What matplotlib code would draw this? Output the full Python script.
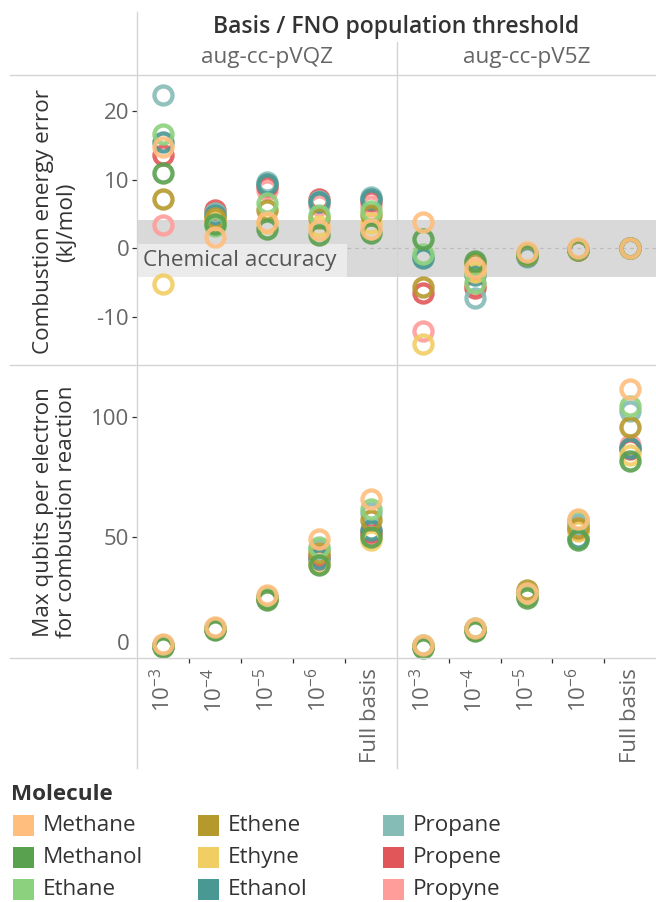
import matplotlib
matplotlib.use("Agg")
import matplotlib.pyplot as plt
from matplotlib.lines import Line2D
from matplotlib.patches import Rectangle

plt.rcParams['font.family'] = ['Open Sans', 'DejaVu Sans']
plt.rcParams['mathtext.fontset'] = 'custom'
plt.rcParams['mathtext.rm'] = 'Open Sans'
plt.rcParams['mathtext.it'] = 'Open Sans:italic'
plt.rcParams['mathtext.bf'] = 'Open Sans:bold'
plt.rcParams['axes.unicode_minus'] = False

# ---------------------------------------------------------------- data
molecules = ['Methane', 'Methanol', 'Ethane', 'Ethene', 'Ethyne',
             'Ethanol', 'Propane', 'Propene', 'Propyne']
colors = ['#FFBE7D', '#59A14F', '#8CD17D', '#B6992D', '#F1CE63',
          '#499894', '#86BCB6', '#E15759', '#FF9D9A']
bases = ['aug-cc-pVQZ', 'aug-cc-pV5Z']
thresholds = [r'$\mathregular{10^{-3}}$', r'$\mathregular{10^{-4}}$',
              r'$\mathregular{10^{-5}}$', r'$\mathregular{10^{-6}}$',
              'Full basis']

# combustion energy error (kJ/mol), one row per molecule, one column per threshold
err_vqz = [
    [14.8, 1.7, 3.9, 2.7, 2.8],
    [11.0, 3.5, 2.8, 2.0, 2.2],
    [16.6, 3.2, 6.6, 4.8, 5.4],
    [7.2, 4.4, 5.6, 4.4, 4.9],
    [-5.2, 4.0, 3.7, 3.2, 3.7],
    [15.5, 4.8, 9.3, 6.8, 7.2],
    [22.4, 5.2, 9.6, 6.9, 7.5],
    [13.6, 5.6, 9.1, 7.2, 6.9],
    [3.4, 3.8, 8.5, 6.3, 6.2],
]
err_v5z = [
    [3.9, -2.8, -0.5, 0.1, 0.0],
    [1.4, -1.9, -0.9, -0.1, 0.0],
    [-0.9, -5.1, -0.7, -0.1, 0.0],
    [-5.7, -2.2, -1.0, -0.2, 0.0],
    [-13.9, -3.5, -0.8, -0.1, 0.0],
    [-1.4, -3.9, -1.1, -0.2, 0.0],
    [-1.2, -7.2, -1.3, -0.2, 0.0],
    [-6.5, -5.8, -1.1, -0.2, 0.0],
    [-12.1, -5.3, -1.0, -0.3, 0.0],
]
# max qubits per electron for the combustion reaction
qpe_vqz = [
    [5.7, 12.8, 26.0, 49.4, 65.9],
    [4.3, 11.4, 23.9, 38.5, 50.2],
    [5.2, 12.2, 25.0, 46.1, 62.0],
    [5.0, 12.0, 24.8, 43.3, 57.2],
    [4.6, 11.6, 24.2, 39.0, 48.9],
    [4.8, 11.8, 24.5, 41.0, 52.9],
    [5.1, 12.1, 25.2, 45.0, 60.0],
    [4.9, 11.9, 24.6, 42.0, 52.0],
    [4.7, 11.7, 24.3, 40.7, 51.0],
]
qpe_v5z = [
    [5.3, 12.3, 26.8, 57.8, 112.0],
    [4.0, 10.9, 24.5, 48.9, 81.8],
    [5.0, 12.0, 26.5, 57.0, 104.7],
    [4.8, 11.8, 27.9, 54.0, 96.0],
    [4.4, 11.4, 25.5, 52.6, 84.3],
    [4.5, 11.5, 25.8, 49.5, 87.4],
    [4.9, 11.9, 26.0, 55.5, 102.8],
    [4.6, 11.6, 25.6, 53.0, 87.0],
    [4.7, 11.7, 26.2, 55.0, 88.5],
]
chem_acc = 4.184  # 1 kcal/mol in kJ/mol

# ---------------------------------------------------------------- layout
W, H = 656, 902
fig = plt.figure(figsize=(W / 100, H / 100), dpi=100)

TEXT = '#333333'
GREY = '#666666'
FRAME = '#d4d4d4'
FS = 16.2
TICK_FS = 16


def fx(x):
    return x / W


def fy(y):
    return 1 - y / H


def add_panel(x0, y0, x1, y1):
    ax = fig.add_axes([fx(x0), fy(y1), (x1 - x0) / W, (y1 - y0) / H])
    ax.set_facecolor('none')
    for s in ax.spines.values():
        s.set_visible(False)
    ax.set_xlim(-0.5, len(thresholds) - 0.5)
    return ax


col_x = [(137, 397), (397, 656)]
row_y = [(75, 365), (365, 658)]

# frame lines
for y in (75, 365, 658):
    fig.add_artist(Line2D([fx(10), fx(656)], [fy(y), fy(y)],
                          transform=fig.transFigure, color=FRAME, lw=1))
fig.add_artist(Line2D([fx(137), fx(137)], [fy(12), fy(768)],
                      transform=fig.transFigure, color=FRAME, lw=1))
fig.add_artist(Line2D([fx(397), fx(397)], [fy(42), fy(768)],
                      transform=fig.transFigure, color=FRAME, lw=1))

xpos = list(range(len(thresholds)))
series = [[err_vqz, err_v5z], [qpe_vqz, qpe_v5z]]
ylims = [(-17.0, 25.25), (-0.3, 121.8)]

for r in range(2):
    for c in range(2):
        ax = add_panel(col_x[c][0], row_y[r][0], col_x[c][1], row_y[r][1])
        ax.set_ylim(*ylims[r])
        data = series[r][c]

        if r == 0:
            ax.axhspan(-chem_acc, chem_acc, color='#d9d9d9', lw=0, zorder=0)
            ax.axhline(0, color='#bdbdbd', lw=0.9, ls=(0, (3, 3)), zorder=0.5)

        for i in reversed(range(len(molecules))):
            ax.plot(xpos, data[i], ls='none', marker='o', ms=13, mew=3.1,
                    mfc='none', mec=colors[i], alpha=0.9, clip_on=False,
                    zorder=3)

        # y axis
        if c == 0:
            if r == 0:
                ax.set_yticks([-10, 0, 10, 20])
            else:
                ax.set_yticks([50, 100])
                ax.annotate('0', xy=(0, 0), xycoords=('axes fraction', 'data'),
                            xytext=(-5.6, 9.5), textcoords='offset points',
                            ha='right', va='center', fontsize=TICK_FS,
                            color=GREY)
            ax.tick_params(axis='y', length=3.6, width=0.9, color='#333333',
                           pad=2, labelsize=TICK_FS, labelcolor=GREY)
        else:
            ax.set_yticks([])

        # x axis
        if r == 1:
            ax.set_xticks(xpos)
            ax.set_xticklabels(thresholds, rotation=90, fontsize=TICK_FS,
                               color=GREY)
            ax.set_xticks([p + 0.5 for p in xpos[:-1]], minor=True)
            ax.tick_params(axis='x', which='major', length=0, pad=7)
            ax.tick_params(axis='x', which='minor', length=3.6, width=0.9,
                           color='#333333')
        else:
            ax.set_xticks([])

        if r == 0 and c == 0:
            # chemical accuracy label box
            top = 0.65
            ax.add_patch(Rectangle((-0.5 + 1 / 52, -chem_acc), 209 / 52,
                                   top + chem_acc, fc='#ebebeb', ec='none',
                                   zorder=1))
            ax.text(-0.5 + 6 / 52, (top - chem_acc) / 2, 'Chemical accuracy',
                    ha='left', va='center', fontsize=FS, color='#555555',
                    zorder=2)

# headers
fig.text(fx(396), fy(27), 'Basis / FNO population threshold', ha='center',
         va='center', fontsize=FS + 0.4, fontweight='semibold', color=TEXT)
for c, name in enumerate(bases):
    fig.text(fx((col_x[c][0] + col_x[c][1]) / 2), fy(58), name, ha='center',
             va='center', fontsize=FS, color=GREY)

# axis titles
fig.text(fx(55), fy(222), 'Combustion energy error\n(kJ/mol)', rotation=90,
         ha='center', va='center', fontsize=FS, color=TEXT,
         linespacing=1.1)
fig.text(fx(55), fy(512), 'Max qubits per electron\nfor combustion reaction',
         rotation=90, ha='center', va='center', fontsize=FS, color=TEXT,
         linespacing=1.1)

# legend
fig.text(fx(11), fy(795), 'Molecule', ha='left', va='center', fontsize=FS,
         fontweight='bold', color=TEXT)
leg_cols = [12.7, 197.7, 383.0]
leg_rows = [825.5, 857.5, 889.5]
for i, (name, col) in enumerate(zip(molecules, colors)):
    x = leg_cols[i // 3]
    y = leg_rows[i % 3]
    fig.add_artist(Rectangle((fx(x), fy(y + 10.5)), 21 / W, 21 / H,
                             transform=fig.transFigure, fc=col, ec='none'))
    fig.text(fx(x + 30), fy(y), name, ha='left', va='center', fontsize=FS,
             color=TEXT)

fig.savefig('out.png', dpi=100)
